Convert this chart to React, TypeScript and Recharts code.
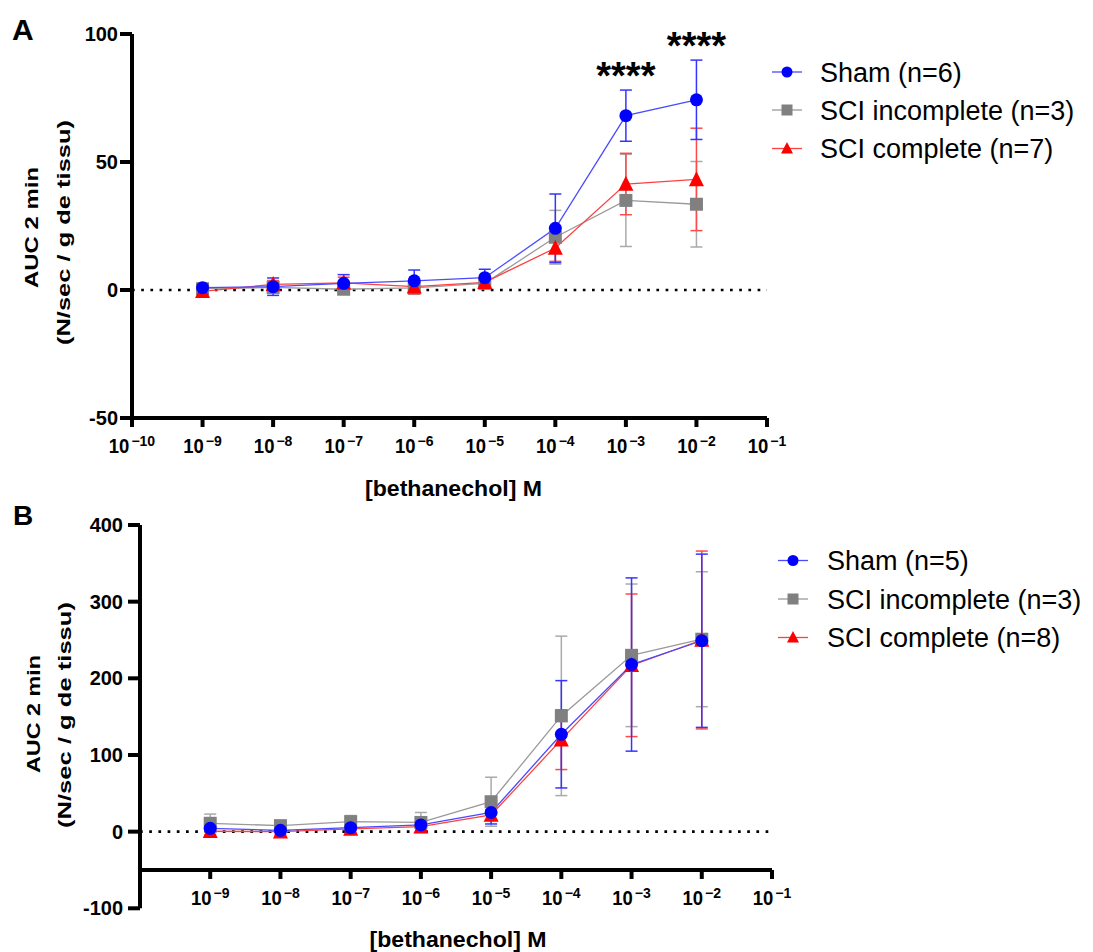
import React from "react";
import { ErrorBar, Line, LineChart, ReferenceDot, ReferenceLine, XAxis, YAxis } from "recharts";

const FONT = "'Liberation Sans', Arial, Helvetica, sans-serif";

// log10 of [bethanechol] (M)
const concentrations = [-9, -8, -7, -6, -5, -4, -3, -2];

// Panel A — mean and SEM
const shamA = [0.9, 1.3, 2.6, 3.6, 4.8, 24.1, 68.1, 74.3];
const shamErrA = [1.5, 3.4, 3.4, 4.2, 3.3, 13.4, 10, 15.5];
const incompleteA = [0.5, 1.0, 0.3, 0.8, 2.6, 20.6, 35.0, 33.5];
const incompleteErrA = [1.5, 2, 2, 1.5, 1.5, 10.5, 18, 16.7];
const completeA = [-0.5, 2.2, 2.8, 1.3, 3.0, 16.4, 41.4, 43.2];
const completeErrA = [1.8, 1.5, 2.2, 2.9, 1, 5.2, 12, 20];
const starsA = ["", "", "", "", "", "", "****", "****"];

// Panel B — mean and SEM
const shamB = [4.3, 1.7, 5.2, 8.7, 25, 127, 218, 249];
const shamErrB = [3, 3, 3, 4, 15, 70, 113, 113];
const incompleteB = [10.9, 7.8, 13, 12, 39, 151, 230, 251];
const incompleteErrB = [12, 5, 8, 13, 32, 104, 93, 88];
const completeB = [0.5, 0, 3.5, 6.5, 21.7, 120, 217, 250];
const completeErrB = [5, 4, 4, 3, 7, 39, 93, 116];

const xTicksA = [-10, -9, -8, -7, -6, -5, -4, -3, -2, -1];
const xTicksB = [-9, -8, -7, -6, -5, -4, -3, -2, -1];
const yTicksA = [-50, 0, 50, 100];
const yTicksB = [-100, 0, 100, 200, 300, 400];

const legendA = ["Sham (n=6)", "SCI incomplete (n=3)", "SCI complete (n=7)"];
const legendB = ["Sham (n=5)", "SCI incomplete (n=3)", "SCI complete (n=8)"];

const BLUE = "#0000ff";
const GREY = "#808080";
const RED = "#ff0000";

const rowsA = concentrations.map((c, i) => ({
  c,
  sham: shamA[i],
  shamErr: shamErrA[i],
  incomplete: incompleteA[i],
  incompleteErr: incompleteErrA[i],
  complete: completeA[i],
  completeErr: completeErrA[i],
}));

const rowsB = concentrations.map((c, i) => ({
  c,
  sham: shamB[i],
  shamErr: shamErrB[i],
  incomplete: incompleteB[i],
  incompleteErr: incompleteErrB[i],
  complete: completeB[i],
  completeErr: completeErrB[i],
}));

// chart geometry
const W = 1093;
const HA = 520;
const HB = 472;
const marginA = { top: 34, right: 326, bottom: 0, left: 0 };
const marginB = { top: 45, right: 321, bottom: 0, left: 0 };
const xAxisHA = 102;
const xAxisHB = 43.7;
// panel B draws its x axis at y = -50 instead of the bottom of the plot
const plotHB = HB - marginB.top - xAxisHB;
const shiftB = (plotHB * (-50 - -100)) / (400 - -100);

function circleDot(fill: string, r: number) {
  return (p: any) => <circle key={`c-${p.index}`} cx={p.cx} cy={p.cy} r={r} fill={fill} />;
}
function squareDot(fill: string, s: number) {
  return (p: any) => (
    <rect key={`s-${p.index}`} x={p.cx - s / 2} y={p.cy - s / 2} width={s} height={s} fill={fill} />
  );
}
function triangleDot(fill: string, s: number) {
  return (p: any) => (
    <polygon
      key={`t-${p.index}`}
      points={`${p.cx},${p.cy - s * 0.55} ${p.cx - s / 2},${p.cy + s * 0.45} ${p.cx + s / 2},${p.cy + s * 0.45}`}
      fill={fill}
    />
  );
}

// "10" with a superscript exponent, plus its own tick mark
function ExpTick(props: any) {
  const { x, y, payload, shift = 0 } = props;
  const yy = y - shift;
  const exp = String(payload.value).replace("-", "\u2212");
  const baseSize = 21;
  const baseScale = 0.88;
  const supSize = 14;
  const baseW = baseSize * 1.112 * baseScale;
  const supW = supSize * (0.584 + 0.556 * (exp.length - 1));
  const left = x - (baseW + 2 + supW) / 2;
  return (
    <g>
      <line x1={x} x2={x} y1={yy} y2={yy + 9} stroke="#000" strokeWidth={4} />
      <text
        transform={`translate(${left},${yy + 35}) scale(${baseScale},1)`}
        fontSize={baseSize}
        fontWeight="bold"
        fontFamily={FONT}
        fill="#000"
      >
        10
      </text>
      <text x={left + baseW + 2} y={yy + 28} fontSize={supSize} fontWeight="bold" fontFamily={FONT} fill="#000">
        {exp}
      </text>
    </g>
  );
}

function YTick(props: any) {
  const { x, y, payload } = props;
  return (
    <text x={x} y={y + 7} textAnchor="end" fontSize={20} fontWeight="bold" fontFamily={FONT} fill="#000">
      {payload.value}
    </text>
  );
}

const axisStroke = { stroke: "#000", strokeWidth: 4 };

function renderLines() {
  return [
    <Line
      key="incomplete"
      type="linear"
      dataKey="incomplete"
      stroke="#9a9a9a"
      strokeWidth={1.3}
      dot={squareDot(GREY, 13)}
      activeDot={false}
      isAnimationActive={false}
    >
      <ErrorBar dataKey="incompleteErr" direction="y" width={6} stroke="#aaaaaa" strokeWidth={1.5} isAnimationActive={false} />
    </Line>,
    <Line
      key="complete"
      type="linear"
      dataKey="complete"
      stroke="#ff4040"
      strokeWidth={1.3}
      dot={triangleDot(RED, 15)}
      activeDot={false}
      isAnimationActive={false}
    >
      <ErrorBar dataKey="completeErr" direction="y" width={6} stroke="#ff4a4a" strokeWidth={1.5} isAnimationActive={false} />
    </Line>,
    <Line
      key="sham"
      type="linear"
      dataKey="sham"
      stroke="#4a4aff"
      strokeWidth={1.3}
      dot={circleDot(BLUE, 6.5)}
      activeDot={false}
      isAnimationActive={false}
    >
      <ErrorBar dataKey="shamErr" direction="y" width={6} stroke="#3535ff" strokeWidth={1.5} isAnimationActive={false} />
    </Line>,
  ];
}

function Legend({ x, textX, ys, labels }: { x: number; textX: number; ys: number[]; labels: string[] }) {
  const cx = x + 15;
  return (
    <g fontFamily={FONT}>
      <line x1={x} x2={x + 30} y1={ys[0]} y2={ys[0]} stroke="#4a4aff" strokeWidth={1.3} />
      <circle cx={cx} cy={ys[0]} r={5.5} fill={BLUE} />
      <line x1={x} x2={x + 30} y1={ys[1]} y2={ys[1]} stroke="#9a9a9a" strokeWidth={1.3} />
      <rect x={cx - 5.5} y={ys[1] - 5.5} width={11} height={11} fill={GREY} />
      <line x1={x} x2={x + 30} y1={ys[2]} y2={ys[2]} stroke="#ff4040" strokeWidth={1.3} />
      <polygon points={`${cx},${ys[2] - 6.5} ${cx - 6},${ys[2] + 5} ${cx + 6},${ys[2] + 5}`} fill={RED} />
      {labels.map((l, i) => (
        <text key={l} x={textX} y={ys[i] + 9.5} fontSize={27} fill="#000">
          {l}
        </text>
      ))}
    </g>
  );
}

export default function App() {
  return (
    <div style={{ position: "absolute", left: 0, top: 0, width: W, height: 952, background: "#fff" }}>
      <div style={{ position: "absolute", left: 0, top: 0 }}>
        <LineChart width={W} height={HA} data={rowsA} margin={marginA}>
          <XAxis
            type="number"
            dataKey="c"
            domain={[-10, -1]}
            ticks={xTicksA}
            interval={0}
            height={xAxisHA}
            axisLine={axisStroke}
            tickLine={false}
            tickSize={0}
            tickMargin={0}
            tick={(p: any) => <ExpTick {...p} shift={0} />}
          />
          <YAxis
            type="number"
            domain={[-50, 100]}
            ticks={yTicksA}
            interval={0}
            width={132}
            axisLine={axisStroke}
            tickLine={axisStroke}
            tickSize={12}
            tickMargin={2}
            tick={(p: any) => <YTick {...p} />}
          />
          <ReferenceLine y={0} stroke="#000" strokeWidth={2.7} strokeDasharray="2.7 6.5" />
          {renderLines()}
          {concentrations.map((c, i) =>
            starsA[i] ? (
              <ReferenceDot
                key={`star-${c}`}
                x={c}
                y={shamA[i] + shamErrA[i]}
                r={0}
                stroke="none"
                label={{
                  value: starsA[i],
                  position: "top",
                  offset: 1,
                  fill: "#000",
                  fontSize: 38,
                  fontWeight: "bold",
                  fontFamily: FONT,
                }}
              />
            ) : null
          )}
        </LineChart>
      </div>
      <div style={{ position: "absolute", left: 0, top: 480 }}>
        <LineChart width={W} height={HB} data={rowsB} margin={marginB}>
          <XAxis
            type="number"
            dataKey="c"
            domain={[-10, -1]}
            ticks={xTicksB}
            interval={0}
            height={xAxisHB}
            axisLine={false}
            tickLine={false}
            tickSize={0}
            tickMargin={0}
            tick={(p: any) => <ExpTick {...p} shift={shiftB} />}
          />
          <YAxis
            type="number"
            domain={[-100, 400]}
            ticks={yTicksB}
            interval={0}
            width={140}
            axisLine={axisStroke}
            tickLine={axisStroke}
            tickSize={12}
            tickMargin={5}
            tick={(p: any) => <YTick {...p} />}
          />
          <ReferenceLine y={-50} stroke="#000" strokeWidth={4} />
          <ReferenceLine y={0} stroke="#000" strokeWidth={2.7} strokeDasharray="2.7 6.5" />
          {renderLines()}
        </LineChart>
      </div>
      <svg
        width={W}
        height={952}
        style={{ position: "absolute", left: 0, top: 0, pointerEvents: "none" }}
        fontFamily={FONT}
      >
        <text x={12} y={40} fontSize={30} fontWeight="bold">A</text>
        <text x={13} y={525} fontSize={28} fontWeight="bold">B</text>

        <text transform="translate(38,227.5) rotate(-90)" textAnchor="middle" fontSize={18} fontWeight="bold" textLength={121} lengthAdjust="spacingAndGlyphs">
          AUC 2 min
        </text>
        <text transform="translate(70,232.5) rotate(-90)" textAnchor="middle" fontSize={18} fontWeight="bold" textLength={225} lengthAdjust="spacingAndGlyphs">
          (N/sec / g de tissu)
        </text>
        <text transform="translate(40,714) rotate(-90)" textAnchor="middle" fontSize={18} fontWeight="bold" textLength={118} lengthAdjust="spacingAndGlyphs">
          AUC 2 min
        </text>
        <text transform="translate(71,715) rotate(-90)" textAnchor="middle" fontSize={18} fontWeight="bold" textLength={226} lengthAdjust="spacingAndGlyphs">
          (N/sec / g de tissu)
        </text>

        <text x={453.5} y={496} textAnchor="middle" fontSize={22} fontWeight="bold" textLength={177} lengthAdjust="spacingAndGlyphs">
          [bethanechol] M
        </text>
        <text x={458} y={947} textAnchor="middle" fontSize={22} fontWeight="bold" textLength={177} lengthAdjust="spacingAndGlyphs">
          [bethanechol] M
        </text>

        <Legend x={772} textX={820} ys={[72, 110, 148.5]} labels={legendA} />
        <Legend x={778} textX={827} ys={[560.5, 599, 637.5]} labels={legendB} />
      </svg>
    </div>
  );
}
